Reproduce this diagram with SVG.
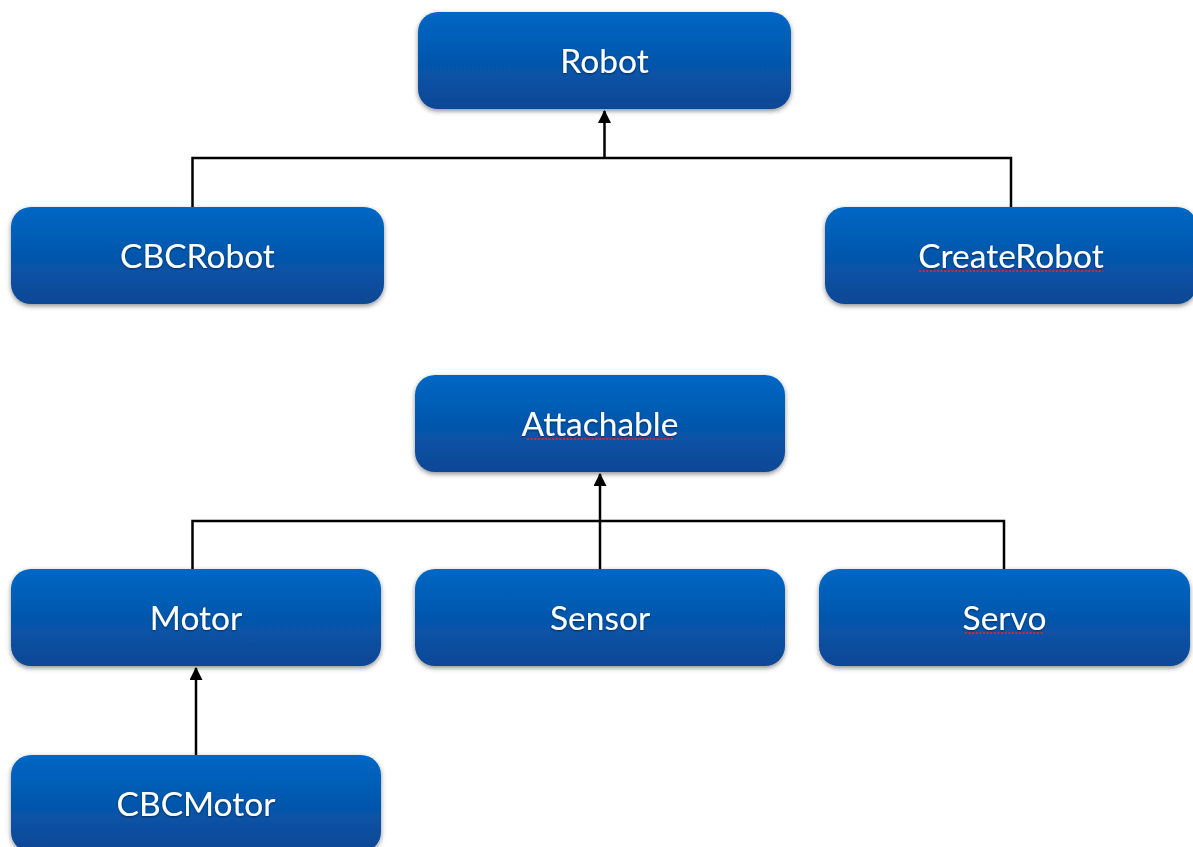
<svg xmlns="http://www.w3.org/2000/svg" width="1193" height="847" viewBox="0 0 1193 847">
  <style>
    .box { fill: url(#boxFill); filter: url(#boxShadow); }
    .label { font-family: Lato, "Open Sans", "Liberation Sans", sans-serif; font-size: 33.5px; fill: #ffffff; text-anchor: middle; filter: url(#textShadow); }
    .wire { fill: none; stroke: #000000; stroke-width: 2.5; }
    .spell { stroke: #d8262e; stroke-width: 2; stroke-dasharray: 2 1.6; }
  </style>
  <defs>
    <linearGradient id="boxFill" x1="0" y1="0" x2="0" y2="1">
      <stop offset="0" stop-color="#0067c4"/>
      <stop offset="1" stop-color="#0b4795"/>
    </linearGradient>
    <filter id="boxShadow" x="-10%" y="-20%" width="120%" height="150%">
      <feDropShadow dx="0" dy="2" stdDeviation="2.5" flood-color="#000000" flood-opacity="0.45"/>
    </filter>
    <filter id="textShadow" x="-10%" y="-20%" width="120%" height="150%">
      <feDropShadow dx="0" dy="1" stdDeviation="0.8" flood-color="#000000" flood-opacity="0.5"/>
    </filter>
    <marker id="arrow" viewBox="0 0 12 12" refX="11" refY="6" markerWidth="13" markerHeight="13" markerUnits="userSpaceOnUse" orient="auto">
      <path d="M0,0 L12,6 L0,12 Z" fill="#000000"/>
    </marker>
  </defs>

  <rect width="1193" height="847" fill="#ffffff"/>

  <!-- inheritance connectors -->
  <g id="connectors">
    <path class="wire" d="M192.5,207 V158 H1011 V207"/>
    <path class="wire" d="M604.5,158 V111" marker-end="url(#arrow)"/>
    <path class="wire" d="M192.5,569 V521 H1004 V569"/>
    <path class="wire" d="M600,569 V474" marker-end="url(#arrow)"/>
    <path class="wire" d="M196,755 V668" marker-end="url(#arrow)"/>
  </g>

  <g id="robot">
    <rect class="box" x="418" y="12" width="373" height="97" rx="20"/>
    <text class="label" x="604.5" y="73">Robot</text>
  </g>

  <g id="cbcrobot">
    <rect class="box" x="11" y="207" width="373" height="97" rx="20"/>
    <text class="label" x="197.5" y="268">CBCRobot</text>
  </g>

  <g id="createrobot">
    <rect class="box" x="825" y="207" width="372" height="97" rx="20"/>
    <text class="label" x="1011" y="268">CreateRobot</text>
    <line class="spell" x1="919" y1="271" x2="1103" y2="271"/>
  </g>

  <g id="attachable">
    <rect class="box" x="415" y="375" width="370" height="97" rx="20"/>
    <text class="label" x="600" y="436">Attachable</text>
    <line class="spell" x1="527" y1="439" x2="673" y2="439"/>
  </g>

  <g id="motor">
    <rect class="box" x="11" y="569" width="370" height="97" rx="20"/>
    <text class="label" x="196" y="630">Motor</text>
  </g>

  <g id="sensor">
    <rect class="box" x="415" y="569" width="370" height="97" rx="20"/>
    <text class="label" x="600" y="630">Sensor</text>
  </g>

  <g id="servo">
    <rect class="box" x="819" y="569" width="371" height="97" rx="20"/>
    <text class="label" x="1004.5" y="630">Servo</text>
    <line class="spell" x1="965" y1="633" x2="1043" y2="633"/>
  </g>

  <g id="cbcmotor">
    <rect class="box" x="11" y="755" width="370" height="97" rx="20"/>
    <text class="label" x="196" y="816">CBCMotor</text>
  </g>
</svg>
